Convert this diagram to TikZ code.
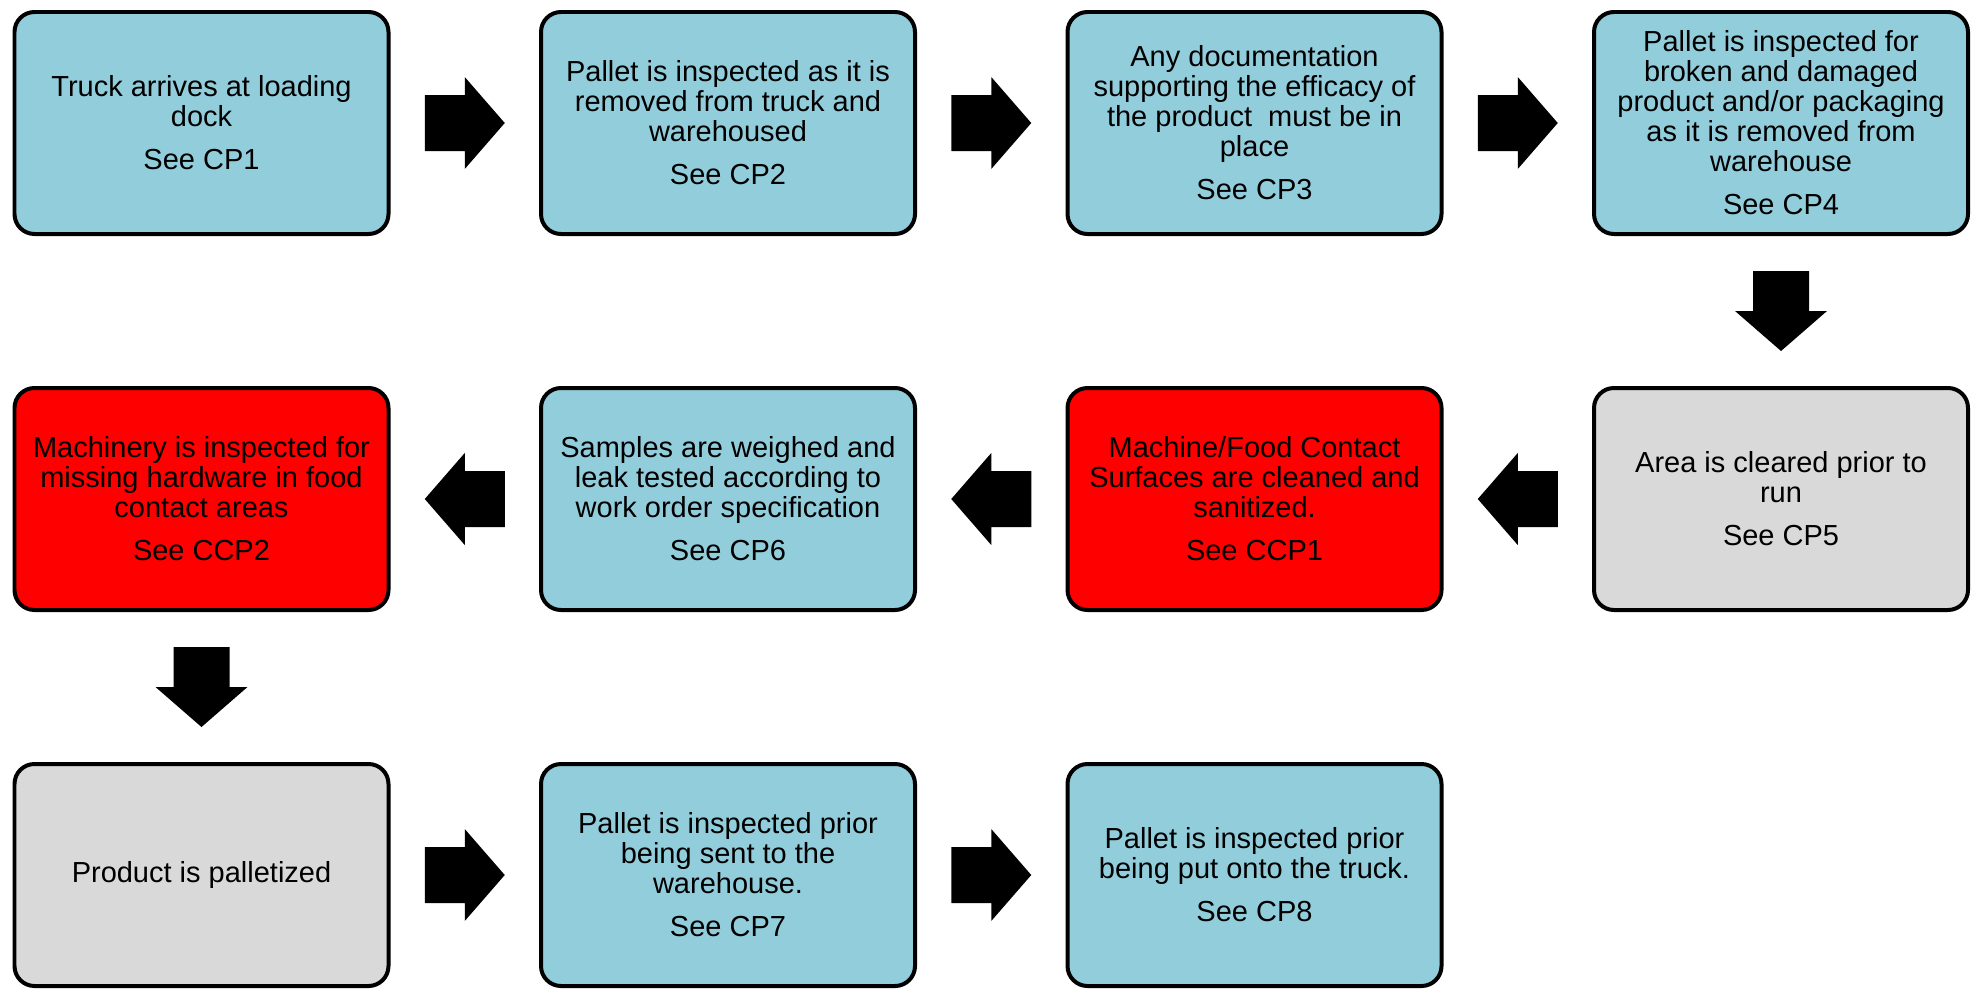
\documentclass[tikz,border=0pt]{standalone}
\usepackage{fontspec}
\setmainfont{Liberation Sans}
\usetikzlibrary{positioning,calc}

\definecolor{stepblue}{HTML}{92CDDC}
\definecolor{stepgray}{HTML}{D9D9D9}
\definecolor{stepred}{HTML}{FF0000}

\tikzset{
    stepbox/.style={draw=black, line width=0.04cm, rounded corners=0.2cm,
        minimum width=3.74cm, minimum height=2.22cm, align=center,
        inner sep=0pt, font=\fontsize{8.25pt}{8.55pt}\selectfont},
    bluebox/.style={stepbox, fill=stepblue},
    graybox/.style={stepbox, fill=stepgray},
    redbox/.style={stepbox, fill=stepred},
    blockarrow/.pic={
        \fill (-0.4,-0.28) -- (0,-0.28) -- (0,-0.46) -- (0.4,0) -- (0,0.46) -- (0,0.28) -- (-0.4,0.28) -- cycle;
    }
}

\begin{document}
\begin{tikzpicture}[node distance=1.485cm and 1.485cm]
                \useasboundingbox (0,0) rectangle (19.81,9.89);

                \node[bluebox] (t1) at (2.015,8.66) {Truck arrives at loading\\dock\\[0.13cm]See CP1};
                \node[bluebox, right=of t1] (t2) {Pallet is inspected as it is\\removed from truck and\\warehoused\\[0.13cm]See CP2};
                \node[bluebox, right=of t2] (t3) {Any documentation\\supporting the efficacy of\\the product\ \ must be in\\place\\[0.13cm]See CP3};
                \node[bluebox, right=of t3] (t4) {Pallet is inspected for\\broken and damaged\\product and/or packaging\\as it is removed from\\warehouse\\[0.13cm]See CP4};

                \node[graybox, below=1.5cm of t4] (t5) {Area is cleared prior to\\run\\[0.13cm]See CP5};
                \node[redbox, left=of t5] (t6) {Machine/Food Contact\\Surfaces are cleaned and\\sanitized.\\[0.13cm]See CCP1};
                \node[bluebox, left=of t6] (t7) {Samples are weighed and\\leak tested according to\\work order specification\\[0.13cm]See CP6};
                \node[redbox, left=of t7] (t8) {Machinery is inspected for\\missing hardware in food\\contact areas\\[0.13cm]See CCP2};

                \node[graybox, below=1.5cm of t8] (t9) {Product is palletized};
                \node[bluebox, right=of t9] (t10) {Pallet is inspected prior\\being sent to the\\warehouse.\\[0.13cm]See CP7};
                \node[bluebox, right=of t10] (t11) {Pallet is inspected prior\\being put onto the truck.\\[0.13cm]See CP8};

                \path ($(t1.east)!0.5!(t2.west)$) pic {blockarrow};
                \path ($(t2.east)!0.5!(t3.west)$) pic {blockarrow};
                \path ($(t3.east)!0.5!(t4.west)$) pic {blockarrow};
                \path ($(t4.south)!0.5!(t5.north)$) pic[rotate=-90] {blockarrow};
                \path ($(t5.west)!0.5!(t6.east)$) pic[rotate=180] {blockarrow};
                \path ($(t6.west)!0.5!(t7.east)$) pic[rotate=180] {blockarrow};
                \path ($(t7.west)!0.5!(t8.east)$) pic[rotate=180] {blockarrow};
                \path ($(t8.south)!0.5!(t9.north)$) pic[rotate=-90] {blockarrow};
                \path ($(t9.east)!0.5!(t10.west)$) pic {blockarrow};
                \path ($(t10.east)!0.5!(t11.west)$) pic {blockarrow};
            \end{tikzpicture}
\end{document}
